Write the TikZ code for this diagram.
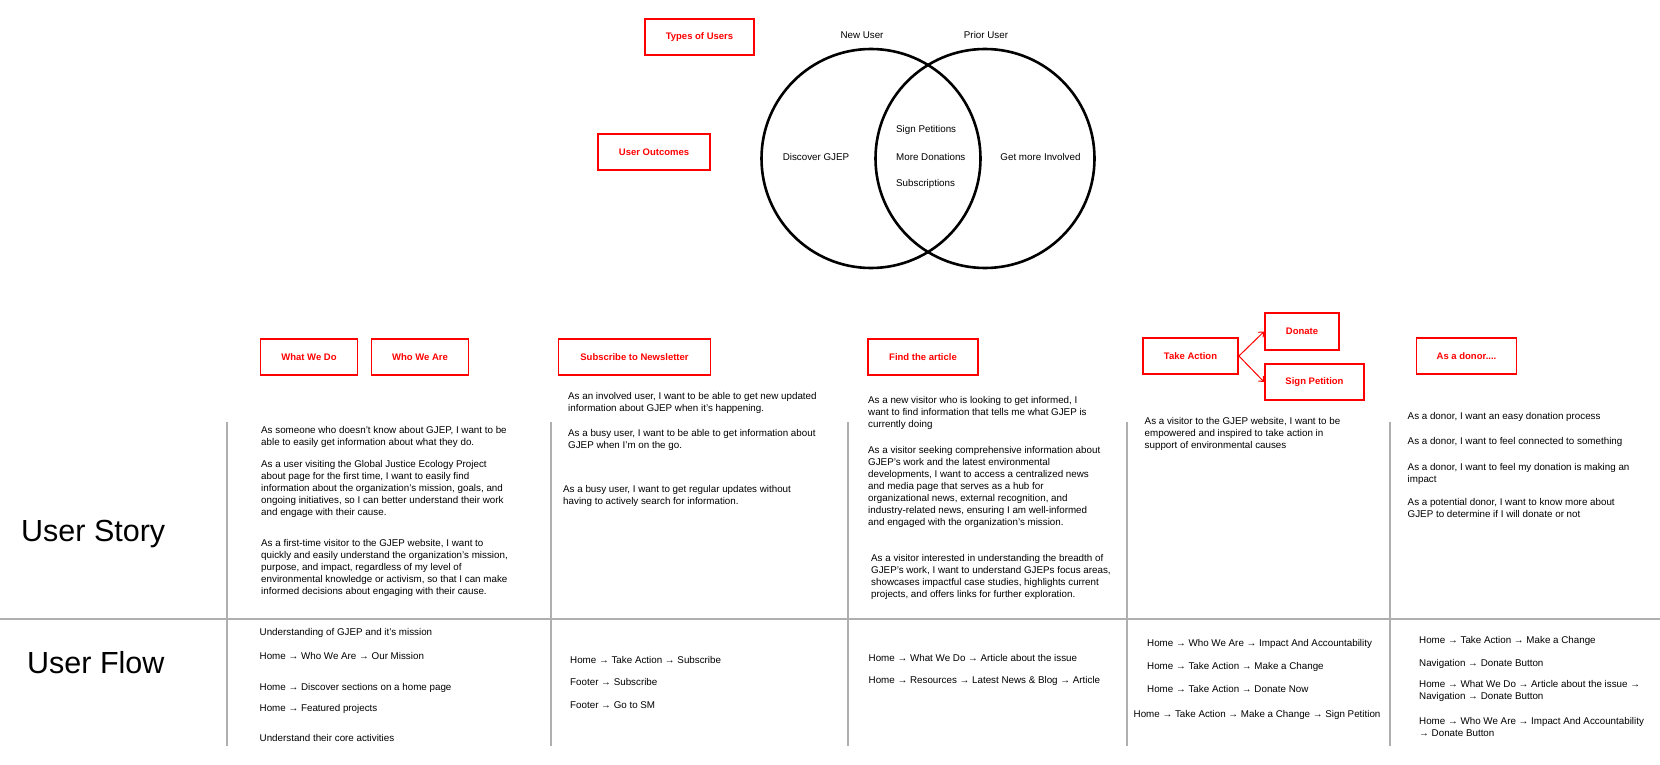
\documentclass[tikz,border=0pt]{standalone}
\usepackage{fontspec}
\setmainfont{Liberation Sans}
\usetikzlibrary{arrows.meta}
\definecolor{boxred}{RGB}{255,0,0}
\definecolor{rulegray}{RGB}{175,175,175}
\tikzset{
  txt/.style={anchor=north west,yshift=7.1pt,align=left,inner sep=0pt,font=\fontsize{9.8}{12}\selectfont},
  lbl/.style={inner sep=0pt,font=\fontsize{9.8}{12}\selectfont},
  redbox/.style={draw=boxred,line width=1.8pt,text=boxred,inner sep=0pt,
    minimum height=36pt,font=\fontsize{9.5}{11}\selectfont\bfseries},
  venn/.style={circle,draw,line width=2.6pt,inner sep=0pt,minimum size=219pt},
  head/.style={anchor=base west,inner sep=0pt,font=\fontsize{30.5}{32}\selectfont},
  rule/.style={draw=rulegray,line width=1.3pt}
}
\begin{document}
\begin{tikzpicture}[x=1pt,y=-1pt]
  \useasboundingbox (0,0) rectangle (1660,765);
  % venn
  \draw
    (871,158.5) node[venn] (newc){}
    (985,158.5) node[venn] (priorc){}
    (862,35) node[lbl] (new){New User}
    (986,35) node[lbl] (prior){Prior User}
    (816,157) node[lbl] (discover){Discover GJEP}
    (896,130) node[lbl,anchor=west] (petitions){Sign Petitions}
    (896,157) node[lbl,anchor=west] (donations){More Donations}
    (896,183.5) node[lbl,anchor=west] (subs){Subscriptions}
    (1040.5,157) node[lbl] (involved){Get more Involved};
  % red boxes
  \draw
    (699.5,37) node[redbox,minimum width=109pt] (types){Types of Users}
    (654,152) node[redbox,minimum width=112pt] (outcomes){User Outcomes}
    (309,357) node[redbox,minimum width=97pt] (whatdo){What We Do}
    (420,357) node[redbox,minimum width=97pt] (whoare){Who We Are}
    (634.5,357) node[redbox,minimum width=152pt] (subscribe){Subscribe to Newsletter}
    (923,357) node[redbox,minimum width=110pt] (article){Find the article}
    (1190.5,356) node[redbox,minimum width=95pt] (take){Take Action}
    (1302,331.5) node[redbox,minimum width=74pt,minimum height=37pt] (donate){Donate}
    (1314.5,382) node[redbox,minimum width=99pt] (petition){Sign Petition}
    (1466.5,356) node[redbox,minimum width=100pt] (donor){As a donor....};
  \begin{scope}[-{Straight Barb[length=4pt,width=7pt]},draw=boxred,line width=1pt]
    \draw (take.east) to (donate.west);
    \draw (take.east) to (petition.west);
  \end{scope}
  % grid
  \draw[rule] (0,619) -- (1660,619);
  \draw[rule] (227,422) -- (227,746);
  \draw[rule] (551,422) -- (551,746);
  \draw[rule] (848,422) -- (848,746);
  \draw[rule] (1127,422) -- (1127,746);
  \draw[rule] (1390,422) -- (1390,746);
  \draw
    (21,541) node[head] (story){User Story}
    (27,673) node[head] (flow){User Flow};
  % user story
  \draw
    (261,433.5) node[txt] (s11){As someone who doesn't know about GJEP, I want to be\\able to easily get information about what they do.}
    (261,467) node[txt] (s12){As a user visiting the Global Justice Ecology Project\\about page for the first time, I want to easily find\\information about the organization's mission, goals, and\\ongoing initiatives, so I can better understand their work\\and engage with their cause.}
    (261,546.5) node[txt] (s13){As a first-time visitor to the GJEP website, I want to\\quickly and easily understand the organization's mission,\\purpose, and impact, regardless of my level of\\environmental knowledge or activism, so that I can make\\informed decisions about engaging with their cause.}
    (568,399.5) node[txt] (s21){As an involved user, I want to be able to get new updated\\information about GJEP when it's happening.}
    (568,436.5) node[txt] (s22){As a busy user, I want to be able to get information about\\GJEP when I'm on the go.}
    (563,492.5) node[txt] (s23){As a busy user, I want to get regular updates without\\having to actively search for information.}
    (868,403.5) node[txt] (s31){As a new visitor who is looking to get informed, I\\want to find information that tells me what GJEP is\\currently doing}
    (868,453.5) node[txt] (s32){As a visitor seeking comprehensive information about\\GJEP's work and the latest environmental\\developments, I want to access a centralized news\\and media page that serves as a hub for\\organizational news, external recognition, and\\industry-related news, ensuring I am well-informed\\and engaged with the organization's mission.}
    (871,561.5) node[txt] (s33){As a visitor interested in understanding the breadth of\\GJEP's work, I want to understand GJEPs focus areas,\\showcases impactful case studies, highlights current\\projects, and offers links for further exploration.}
    (1144.5,424.5) node[txt] (s41){As a visitor to the GJEP website, I want to be\\empowered and inspired to take action in\\support of environmental causes}
    (1407.5,419.5) node[txt] (s51){As a donor, I want an easy donation process}
    (1407.5,444.5) node[txt] (s52){As a donor, I want to feel connected to something}
    (1407.5,470.5) node[txt] (s53){As a donor, I want to feel my donation is making an\\impact}
    (1407.5,505.5) node[txt] (s54){As a potential donor, I want to know more about\\GJEP to determine if I will donate or not};
  % user flow
  \draw
    (259.5,635.5) node[txt] (f11){Understanding of GJEP and it's mission}
    (259.5,659.5) node[txt] (f12){Home → Who We Are → Our Mission}
    (259.5,690.5) node[txt] (f13){Home → Discover sections on a home page}
    (259.5,711.5) node[txt] (f14){Home → Featured projects}
    (259.5,741.5) node[txt] (f15){Understand their core activities}
    (570,663) node[txt] (f21){Home → Take Action → Subscribe}
    (570,685.5) node[txt] (f22){Footer → Subscribe}
    (570,708.5) node[txt] (f23){Footer → Go to SM}
    (868.5,661) node[txt] (f31){Home → What We Do → Article about the issue}
    (868.5,683.5) node[txt] (f32){Home → Resources → Latest News \& Blog → Article}
    (1147,646.5) node[txt] (f41){Home → Who We Are → Impact And Accountability}
    (1147,669.5) node[txt] (f42){Home → Take Action → Make a Change}
    (1147,692.5) node[txt] (f43){Home → Take Action → Donate Now}
    (1133.5,717.5) node[txt] (f44){Home → Take Action → Make a Change → Sign Petition}
    (1419,643.5) node[txt] (f51){Home → Take Action → Make a Change}
    (1419,666.5) node[txt] (f52){Navigation → Donate Button}
    (1419,687) node[txt] (f53){Home → What We Do → Article about the issue →\\Navigation → Donate Button}
    (1419,724) node[txt] (f54){Home → Who We Are → Impact And Accountability\\→ Donate Button};
\end{tikzpicture}
\end{document}
